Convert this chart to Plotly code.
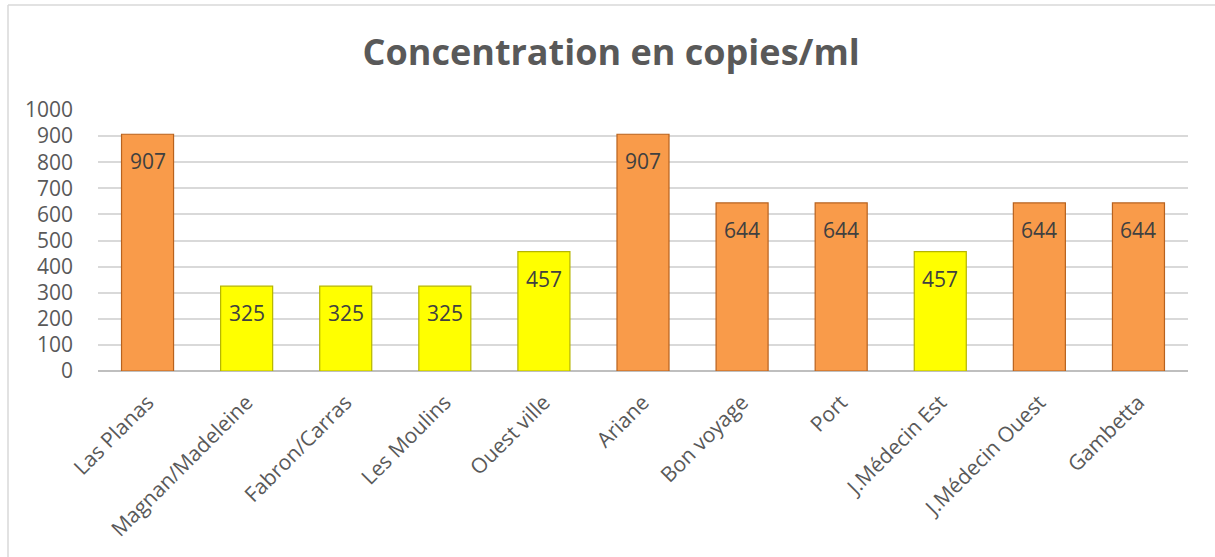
import plotly.graph_objects as go

categories = ["Las Planas", "Magnan/Madeleine", "Fabron/Carras", "Les Moulins", "Ouest ville",
              "Ariane", "Bon voyage", "Port", "J.Médecin Est", "J.Médecin Ouest", "Gambetta"]
values = [907, 325, 325, 325, 457, 907, 644, 644, 457, 644, 644]
y_ticks = [0, 100, 200, 300, 400, 500, 600, 700, 800, 900, 1000]

ORANGE = "#F99B4A"
ORANGE_EDGE = "#B8621E"
YELLOW = "#FFFF00"
YELLOW_EDGE = "#B5B500"
FONT = "Open Sans, Lato, sans-serif"

fill = [ORANGE if v > 500 else YELLOW for v in values]
edge = [ORANGE_EDGE if v > 500 else YELLOW_EDGE for v in values]

fig = go.Figure(go.Bar(
    x=categories, y=values,
    marker=dict(color=fill, line=dict(color=edge, width=1.2)),
    cliponaxis=False,
))

for c, v in zip(categories, values):
    fig.add_annotation(x=c, y=v, text=str(v), showarrow=False, yanchor="middle",
                       yshift=-27, font=dict(family=FONT, size=21, color="#404040"))

W, H = 1215, 557
ml, mr, mt, mb = 98, 27, 110, 186

fig.update_layout(
    width=W, height=H,
    margin=dict(l=ml, r=mr, t=mt, b=mb),
    paper_bgcolor="white", plot_bgcolor="white",
    bargap=0.475,
    showlegend=False,
    title=dict(text="<b>Concentration en copies/ml</b>", x=0.503, xanchor="center",
               y=1 - 52 / H, yanchor="middle",
               font=dict(family=FONT, size=36, color="#595959")),
    font=dict(family=FONT, color="#595959"),
    xaxis=dict(tickangle=-45, tickfont=dict(size=21, color="#595959"), showline=False,
               ticks="", showgrid=False, ticklabelstandoff=14, automargin=False),
    yaxis=dict(range=[0, 1000], tickvals=y_ticks, tickfont=dict(size=21, color="#595959"),
               showgrid=True, gridcolor="#D9D9D9", gridwidth=1.5, zeroline=True,
               zerolinecolor="#BFBFBF", zerolinewidth=1.5, ticks="", ticklabelstandoff=24,
               automargin=False),
)

pw = W - ml - mr
ph = H - mt - mb
def px2x(px):
    return (px - ml) / pw
def py2y(py):
    return (H - mb - py) / ph

fig.add_shape(type="line", xref="paper", yref="paper", x0=px2x(8), x1=px2x(8),
              y0=py2y(5), y1=py2y(H), line=dict(color="#D9D9D9", width=1.5))
fig.add_shape(type="line", xref="paper", yref="paper", x0=px2x(8), x1=px2x(W),
              y0=py2y(5), y1=py2y(5), line=dict(color="#D9D9D9", width=1.5))

fig.write_html("out.html", config={"displayModeBar": False},
               post_script="document.body.style.margin='0';document.body.style.overflow='hidden';")
